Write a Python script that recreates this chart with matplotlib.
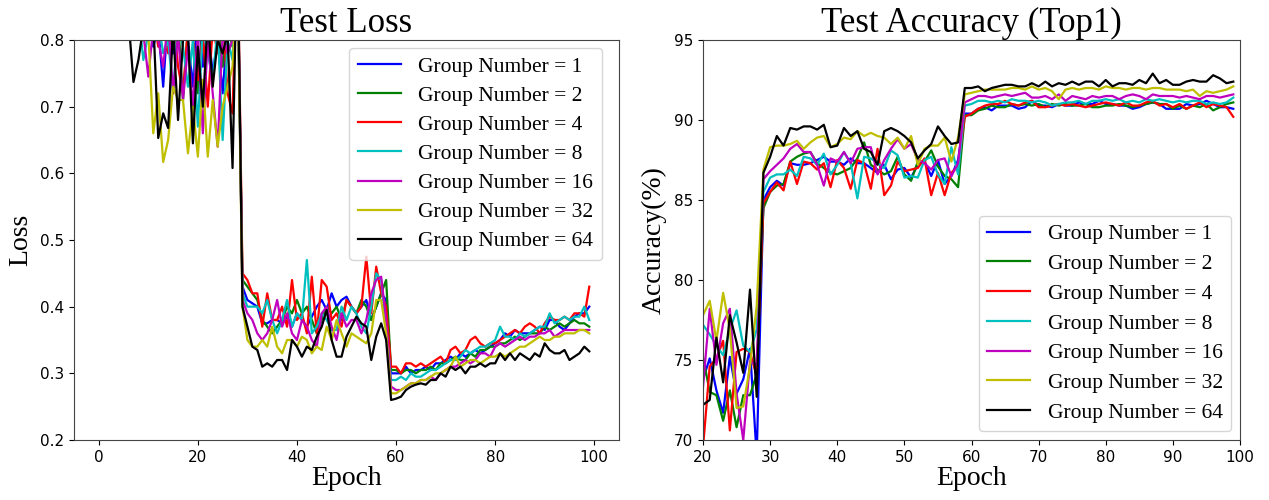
import matplotlib
matplotlib.use("Agg")
import matplotlib.pyplot as plt
import numpy as np

groups = [1, 2, 4, 8, 16, 32, 64]
colors = ['b', 'g', 'r', 'c', 'm', 'y', 'k']

# ---- test loss, epochs 0..99 ----
loss_epochs = list(range(100))

loss_g1 = ([2.0, 1.5, 1.3, 1.2, 1.1, 1.0, 0.95,
            0.85, 0.82, 0.80, 0.85, 0.79, 0.82, 0.73, 0.84, 0.78, 0.82, 0.81, 0.80, 0.73, 0.85, 0.76, 0.82, 0.75, 0.80, 0.72, 0.82, 0.80, 0.90,
            0.43,
            0.41, 0.405, 0.40, 0.375, 0.375, 0.38, 0.38, 0.375, 0.385, 0.37, 0.39, 0.38, 0.37, 0.385, 0.40, 0.41, 0.395, 0.42, 0.40, 0.41, 0.415, 0.40, 0.39, 0.40, 0.41, 0.38, 0.40, 0.42, 0.41,
            0.30,
            0.30, 0.30, 0.31, 0.30, 0.305, 0.305, 0.31, 0.305, 0.315, 0.315, 0.32, 0.325, 0.32, 0.33, 0.325, 0.33, 0.335, 0.33, 0.335, 0.34,
            0.345, 0.35, 0.36, 0.355, 0.365, 0.36, 0.36, 0.36, 0.365, 0.37, 0.365, 0.38, 0.38, 0.37, 0.365, 0.375, 0.385, 0.39, 0.39, 0.40])
loss_g2 = ([2.1, 1.6, 1.3, 1.2, 1.1, 1.0, 0.96,
            0.86, 0.84, 0.82, 0.81, 0.83, 0.80, 0.82, 0.81, 0.79, 0.83, 0.71, 0.82, 0.80, 0.72, 0.82, 0.79, 0.80, 0.83, 0.76, 0.82, 0.79, 0.92,
            0.44,
            0.43, 0.42, 0.41, 0.38, 0.37, 0.36, 0.37, 0.38, 0.40, 0.39, 0.41, 0.39, 0.40, 0.38, 0.36, 0.38, 0.40, 0.39, 0.40, 0.38, 0.41, 0.40, 0.39, 0.41, 0.40, 0.38, 0.40, 0.42, 0.44,
            0.305,
            0.305, 0.30, 0.305, 0.305, 0.30, 0.305, 0.305, 0.31, 0.305, 0.315, 0.315, 0.32, 0.325, 0.32, 0.32, 0.33, 0.325, 0.335, 0.335, 0.34,
            0.34, 0.345, 0.345, 0.35, 0.355, 0.35, 0.355, 0.36, 0.36, 0.36, 0.37, 0.365, 0.37, 0.375, 0.37, 0.375, 0.38, 0.375, 0.375, 0.37])
loss_g4 = ([2.0, 1.5, 1.35, 1.2, 1.1, 1.0, 0.97,
            0.90, 0.85, 0.83, 0.81, 0.84, 0.79, 0.82, 0.78, 0.84, 0.76, 0.72, 0.82, 0.80, 0.74, 0.81, 0.70, 0.82, 0.78, 0.84, 0.72, 0.69, 0.95,
            0.45,
            0.44, 0.42, 0.42, 0.37, 0.42, 0.38, 0.38, 0.40, 0.37, 0.44, 0.38, 0.39, 0.36, 0.445, 0.36, 0.44, 0.43, 0.38, 0.39, 0.37, 0.41, 0.40, 0.39, 0.40, 0.475, 0.39, 0.46, 0.42, 0.40,
            0.31,
            0.31, 0.30, 0.315, 0.315, 0.31, 0.315, 0.31, 0.315, 0.32, 0.325, 0.315, 0.335, 0.34, 0.33, 0.335, 0.35, 0.355, 0.345, 0.34, 0.345,
            0.345, 0.35, 0.355, 0.36, 0.365, 0.36, 0.37, 0.375, 0.37, 0.36, 0.375, 0.385, 0.38, 0.38, 0.385, 0.38, 0.39, 0.39, 0.385, 0.43])
loss_g8 = ([2.0, 1.6, 1.3, 1.2, 1.1, 1.0, 0.96,
            0.88, 0.84, 0.77, 0.81, 0.80, 0.83, 0.78, 0.80, 0.72, 0.83, 0.79, 0.73, 0.80, 0.67, 0.82, 0.78, 0.74, 0.82, 0.65, 0.80, 0.77, 0.92,
            0.42,
            0.40, 0.40, 0.40, 0.39, 0.41, 0.38, 0.36, 0.38, 0.41, 0.37, 0.39, 0.38, 0.47, 0.36, 0.37, 0.39, 0.38, 0.365, 0.365, 0.40, 0.38, 0.40, 0.39, 0.37, 0.36, 0.40, 0.45, 0.44, 0.37,
            0.29,
            0.29, 0.295, 0.29, 0.30, 0.295, 0.295, 0.30, 0.305, 0.305, 0.31, 0.315, 0.32, 0.32, 0.325, 0.335, 0.33, 0.335, 0.34, 0.34, 0.345,
            0.35, 0.37, 0.355, 0.355, 0.35, 0.36, 0.355, 0.36, 0.365, 0.37, 0.37, 0.39, 0.375, 0.38, 0.385, 0.38, 0.385, 0.385, 0.40, 0.38])
loss_g16 = ([2.0, 1.5, 1.3, 1.2, 1.1, 1.0, 0.95,
             0.87, 0.83, 0.81, 0.745, 0.82, 0.80, 0.76, 0.83, 0.72, 0.81, 0.71, 0.79, 0.70, 0.81, 0.66, 0.80, 0.72, 0.64, 0.81, 0.78, 0.80, 0.93,
             0.41,
             0.39, 0.38, 0.36, 0.35, 0.36, 0.38, 0.41, 0.37, 0.39, 0.36, 0.35, 0.38, 0.37, 0.35, 0.34, 0.39, 0.40, 0.37, 0.35, 0.39, 0.37, 0.38, 0.38, 0.36, 0.38, 0.42, 0.44, 0.445, 0.38,
             0.28,
             0.275, 0.275, 0.28, 0.285, 0.285, 0.29, 0.29, 0.295, 0.29, 0.30, 0.305, 0.31, 0.31, 0.315, 0.32, 0.315, 0.32, 0.33, 0.33, 0.325,
             0.34, 0.345, 0.34, 0.345, 0.35, 0.355, 0.35, 0.355, 0.355, 0.36, 0.36, 0.365, 0.355, 0.36, 0.365, 0.365, 0.365, 0.365, 0.365, 0.365])
loss_g32 = ([2.0, 1.5, 1.3, 1.2, 1.1, 1.0, 0.95,
             0.89, 0.86, 0.83, 0.81, 0.66, 0.72, 0.617, 0.65, 0.73, 0.71, 0.71, 0.63, 0.70, 0.625, 0.74, 0.625, 0.71, 0.64, 0.70, 0.73, 0.76, 0.90,
             0.40,
             0.35, 0.34, 0.34, 0.35, 0.34, 0.37, 0.34, 0.33, 0.35, 0.35, 0.34, 0.355, 0.35, 0.33, 0.34, 0.335, 0.37, 0.35, 0.38, 0.36, 0.34, 0.36, 0.355, 0.35, 0.345, 0.36, 0.41, 0.41, 0.36,
             0.27,
             0.27, 0.275, 0.28, 0.285, 0.285, 0.29, 0.29, 0.295, 0.30, 0.30, 0.305, 0.31, 0.325, 0.31, 0.315, 0.32, 0.32, 0.315, 0.32, 0.325,
             0.325, 0.33, 0.325, 0.33, 0.335, 0.34, 0.34, 0.345, 0.35, 0.355, 0.35, 0.35, 0.355, 0.355, 0.36, 0.36, 0.36, 0.365, 0.365, 0.36])
loss_g64 = ([2.0, 1.5, 1.3, 1.2, 1.1, 1.0, 0.83,
             0.737, 0.77, 0.82, 0.80, 0.83, 0.653, 0.69, 0.668, 0.82, 0.68, 0.80, 0.81, 0.645, 0.79, 0.70, 0.83, 0.73, 0.80, 0.78, 0.81, 0.608, 0.96,
             0.40,
             0.37, 0.34, 0.335, 0.31, 0.315, 0.31, 0.32, 0.32, 0.305, 0.35, 0.34, 0.325, 0.34, 0.335, 0.355, 0.37, 0.395, 0.35, 0.325, 0.325, 0.355, 0.37, 0.385, 0.375, 0.37, 0.32, 0.355, 0.375, 0.35,
             0.26,
             0.262, 0.265, 0.275, 0.28, 0.283, 0.285, 0.283, 0.29, 0.29, 0.30, 0.295, 0.31, 0.305, 0.31, 0.30, 0.31, 0.31, 0.315, 0.31, 0.315,
             0.315, 0.33, 0.32, 0.33, 0.32, 0.33, 0.325, 0.32, 0.33, 0.325, 0.345, 0.335, 0.33, 0.33, 0.335, 0.32, 0.325, 0.33, 0.34, 0.333])

# ---- test accuracy (top1), epochs 20..99 ----
acc_epochs = list(range(20, 100))

acc_g1 = ([73.8, 75.1, 73.1, 71.7, 75.2, 72.9, 73.8, 75.7, 69.0,
           85.0, 85.8, 86.2, 85.9, 87.3, 87.2, 87.2, 87.3, 87.5, 87.7, 87.4, 87.4, 87.2, 87.6, 87.3, 87.3, 87.0, 86.7, 87.2, 86.3, 86.9, 87.0, 86.4, 87.2, 87.4, 86.5, 87.5, 86.0, 86.5, 87.5,
           90.4,
           90.4, 90.7, 90.8, 90.6, 90.9, 90.9, 90.9, 90.7, 90.8, 91.2, 90.9, 90.9, 90.8, 91.0, 90.9, 90.9, 91.1, 91.0, 91.0, 91.2,
           91.0, 91.0, 90.9, 90.9, 90.7, 90.8, 91.0, 91.1, 91.0, 90.7, 90.7, 90.7, 91.0, 90.9, 91.0, 91.2, 91.0, 90.8, 90.8, 90.7])
acc_g2 = ([75.2, 73.0, 72.8, 71.2, 73.1, 70.8, 72.8, 72.8, 74.1,
           84.5, 85.5, 85.9, 86.0, 87.4, 87.7, 87.9, 88.0, 87.3, 87.0, 86.7, 86.6, 86.8, 87.0, 87.6, 88.6, 87.2, 86.9, 86.6, 86.8, 87.7, 86.6, 86.2, 87.4, 87.4, 88.1, 87.1, 86.5, 86.3, 85.8,
           90.3,
           90.3, 90.6, 90.7, 90.9, 90.8, 90.8, 91.0, 90.9, 91.0, 90.9, 91.0, 90.8, 91.0, 90.9, 91.0, 90.9, 90.9, 91.0, 90.8, 90.8,
           90.9, 90.9, 91.0, 90.9, 90.8, 90.9, 91.0, 91.1, 91.0, 91.0, 90.7, 90.9, 90.7, 90.9, 90.8, 91.0, 90.6, 90.8, 91.0, 91.1])
acc_g4 = ([69.5, 74.6, 75.1, 76.2, 70.6, 75.5, 75.7, 75.5, 74.0,
           84.8, 85.5, 86.1, 85.6, 87.4, 86.0, 87.4, 87.3, 86.9, 87.3, 85.8, 87.5, 87.0, 85.7, 87.5, 87.3, 85.7, 88.2, 85.3, 85.9, 87.4, 86.8, 86.9, 87.0, 87.6, 85.3, 86.7, 85.3, 86.7, 87.1,
           90.2,
           90.4, 90.7, 90.9, 91.0, 91.0, 91.2, 91.0, 90.9, 91.1, 91.2, 90.8, 90.8, 90.9, 91.0, 90.9, 91.0, 90.9, 90.8, 90.9, 91.0,
           91.1, 91.0, 90.9, 91.1, 90.9, 90.9, 91.1, 91.2, 90.9, 91.0, 90.8, 91.0, 90.7, 90.9, 91.1, 90.8, 91.0, 90.9, 90.8, 90.2])
acc_g8 = ([77.2, 76.6, 75.9, 75.3, 76.9, 78.1, 75.9, 75.5, 76.9,
           85.5, 86.4, 86.6, 86.6, 86.9, 86.5, 87.7, 87.6, 87.2, 87.9, 86.6, 87.2, 88.0, 87.3, 85.1, 87.7, 87.6, 87.3, 87.0, 88.1, 87.8, 86.4, 86.5, 86.4, 87.5, 87.7, 86.6, 86.0, 88.3, 86.6,
           90.9,
           91.0, 91.2, 91.2, 91.1, 91.2, 91.1, 91.3, 91.2, 91.2, 91.1, 91.2, 91.1, 90.9, 91.0, 91.1, 91.1, 91.2, 91.0, 91.2, 91.2,
           91.3, 91.2, 91.3, 91.1, 91.2, 91.1, 91.3, 91.2, 91.3, 91.2, 91.1, 91.2, 91.1, 91.2, 91.2, 91.0, 91.1, 91.0, 91.1, 91.4])
acc_g16 = ([73.3, 78.2, 74.7, 77.3, 78.2, 72.9, 70.0, 74.9, 74.7,
            86.3, 86.8, 87.2, 87.6, 88.2, 88.5, 88.0, 88.0, 87.2, 85.9, 87.6, 87.4, 88.0, 87.3, 88.2, 88.3, 88.3, 86.6, 87.5, 88.2, 88.8, 88.2, 88.5, 87.5, 87.3, 86.9, 87.5, 87.6, 86.5, 87.3,
            91.1,
            91.3, 91.5, 91.5, 91.4, 91.5, 91.6, 91.5, 91.6, 91.7, 91.4, 91.4, 91.5, 91.3, 91.6, 91.2, 91.5, 91.4, 91.3, 91.5, 91.4,
            91.5, 91.5, 91.3, 91.5, 91.6, 91.5, 91.3, 91.6, 91.5, 91.5, 91.5, 91.4, 91.5, 91.4, 91.3, 91.5, 91.5, 91.4, 91.5, 91.6])
acc_g32 = ([77.8, 78.7, 76.2, 79.2, 76.9, 72.0, 72.1, 74.6, 78.4,
            86.9, 88.3, 88.4, 88.4, 88.5, 88.7, 88.2, 88.6, 88.9, 89.0, 88.3, 88.5, 88.9, 88.8, 89.3, 89.0, 89.2, 89.0, 88.9, 88.5, 88.9, 88.2, 89.0, 87.2, 88.2, 88.4, 88.4, 88.9, 87.4, 88.9,
            91.6,
            91.7, 91.8, 91.9, 91.9, 91.9, 91.9, 92.0, 92.0, 91.9, 92.1, 91.9, 92.0, 91.8, 91.3, 91.9, 92.0, 91.9, 92.0, 92.0, 91.9,
            92.1, 92.0, 92.0, 91.9, 92.0, 92.0, 91.9, 92.0, 92.0, 91.9, 91.9, 91.9, 91.8, 91.9, 91.5, 91.8, 91.7, 91.8, 91.9, 92.1])
acc_g64 = ([72.2, 72.5, 76.4, 73.6, 77.8, 76.1, 74.2, 79.4, 72.7,
            86.7, 87.7, 89.0, 88.4, 89.5, 89.4, 89.6, 89.6, 89.4, 89.7, 88.3, 88.4, 89.5, 89.0, 89.3, 88.2, 88.0, 87.2, 89.3, 89.5, 89.3, 89.0, 88.6, 87.6, 88.1, 88.5, 89.6, 89.0, 88.5, 88.6,
            92.0,
            92.0, 92.1, 91.8, 92.0, 92.1, 92.2, 92.2, 92.1, 92.1, 92.3, 92.1, 92.4, 92.1, 92.3, 92.2, 92.4, 92.2, 92.4, 92.4, 92.1,
            92.5, 92.1, 92.3, 92.3, 92.2, 92.5, 92.3, 92.9, 92.3, 92.5, 92.2, 92.2, 92.4, 92.5, 92.4, 92.4, 92.8, 92.6, 92.3, 92.4])

loss_series = [loss_g1, loss_g2, loss_g4, loss_g8, loss_g16, loss_g32, loss_g64]
acc_series = [acc_g1, acc_g2, acc_g4, acc_g8, acc_g16, acc_g32, acc_g64]

serif = 'Liberation Serif'

fig = plt.figure(figsize=(12.69, 5.0), dpi=100)
ax1 = fig.add_axes([74/1269, 0.12, (619-74)/1269, 0.80])
ax2 = fig.add_axes([703/1269, 0.12, (1240-703)/1269, 0.80])

for vals, c, g in zip(loss_series, colors, groups):
    ax1.plot(loss_epochs, vals, color=c, lw=1.6, label='Group Number = %d' % g)
for vals, c, g in zip(acc_series, colors, groups):
    ax2.plot(acc_epochs, vals, color=c, lw=1.6, label='Group Number = %d' % g)

ax1.set_xlim(-5, 105)
ax1.set_ylim(0.2, 0.8)
ax1.set_xticks([0, 20, 40, 60, 80, 100])
ax1.set_yticks([0.2, 0.3, 0.4, 0.5, 0.6, 0.7, 0.8])
ax1.set_title('Test Loss', fontsize=25, family=serif, pad=4)
ax1.set_xlabel('Epoch', fontsize=20, family=serif, labelpad=1)
ax1.set_ylabel('Loss', fontsize=20, family=serif, labelpad=5)

ax2.set_xlim(20, 100)
ax2.set_ylim(70, 95)
ax2.set_xticks([20, 30, 40, 50, 60, 70, 80, 90, 100])
ax2.set_yticks([70, 75, 80, 85, 90, 95])
ax2.set_title('Test Accuracy (Top1)', fontsize=25, family=serif, pad=4)
ax2.set_xlabel('Epoch', fontsize=20, family=serif, labelpad=1)
ax2.set_ylabel('Accuracy(%)', fontsize=20, family=serif, labelpad=5)

for ax in (ax1, ax2):
    ax.tick_params(labelsize=11)
    for s in ax.spines.values():
        s.set_color('#444444')

leg_font = {'family': serif, 'size': 15.5}
ax1.legend(loc='upper right', bbox_to_anchor=(0.969, 0.98), borderaxespad=0,
           prop=leg_font, handlelength=2.0, handletextpad=0.8, labelspacing=0.42)
ax2.legend(loc='lower right', prop=leg_font, handlelength=2.0, handletextpad=0.8,
           labelspacing=0.45, borderaxespad=0.4)

fig.savefig('out.png', dpi=100)
